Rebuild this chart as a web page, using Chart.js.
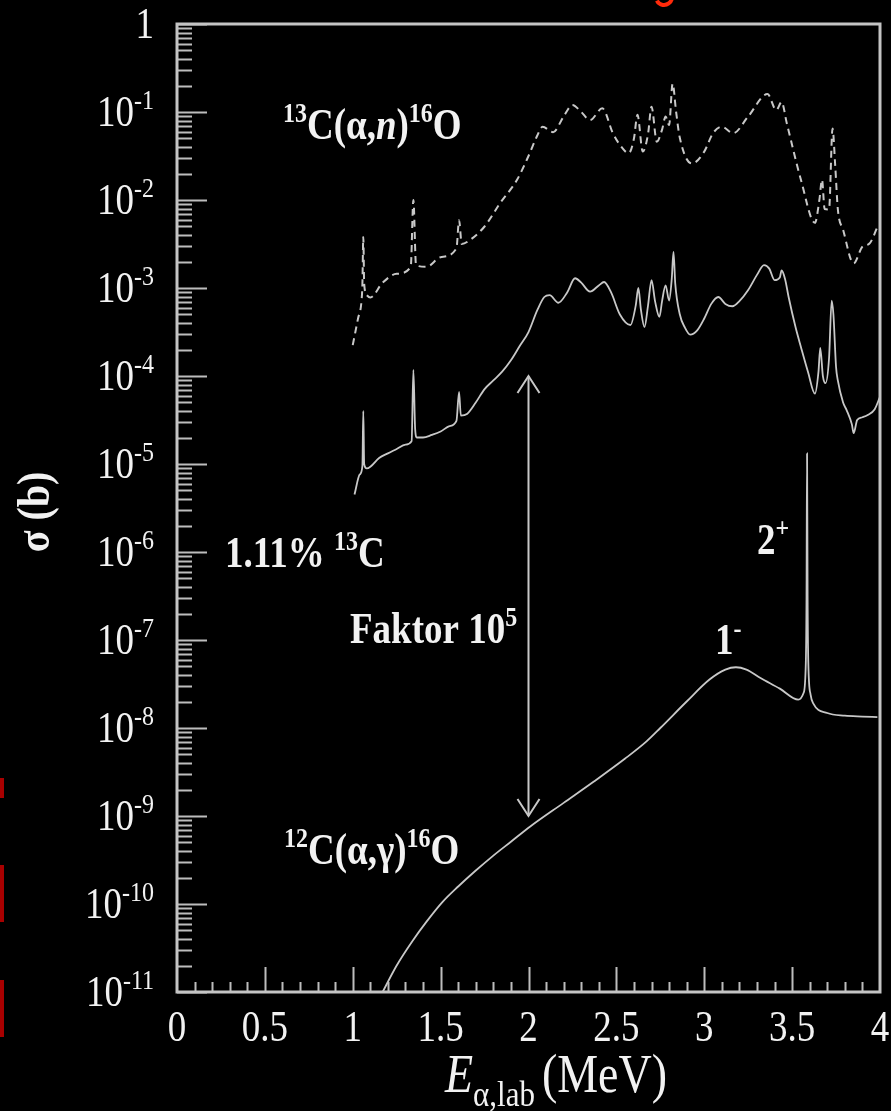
<!DOCTYPE html>
<html><head><meta charset="utf-8">
<script src="https://cdn.jsdelivr.net/npm/chart.js@4/dist/chart.umd.min.js"></script>
<style>html,body{margin:0;padding:0;background:#000;}canvas{display:block;}</style>
</head><body>
<canvas id="c" width="891" height="1111"></canvas>
<script>
// 13C(alpha,n)16O (dashed)
const energyAN = [1.00,1.03,1.05,1.055,1.06,1.065,1.08,1.10,1.17,1.25,1.33,1.345,1.36,1.42,1.50,1.59,1.605,1.62,1.67,1.75,1.84,1.935,2.00,2.05,2.08,2.14,2.20,2.25,2.30,2.35,2.42,2.48,2.53,2.57,2.60,2.62,2.65,2.68,2.70,2.73,2.76,2.78,2.80,2.82,2.84,2.86,2.93,3.00,3.05,3.10,3.165,3.25,3.36,3.41,3.44,3.47,3.55,3.63,3.655,3.67,3.685,3.71,3.73,3.745,3.76,3.79,3.85,3.90,3.94,3.99];
const sigmaAN = [2.24e-4,4.5e-4,7.2e-4,1.12e-3,3.8e-3,1.12e-3,8.3e-4,7.8e-4,1.15e-3,1.45e-3,1.74e-3,1.0e-2,1.82e-3,1.74e-3,2.24e-3,2.82e-3,5.9e-3,3.16e-3,3.55e-3,5.0e-3,9.3e-3,1.7e-2,3.16e-2,5.4e-2,6.8e-2,5.9e-2,8.9e-2,0.12,0.10,8.1e-2,0.11,5.75e-2,3.98e-2,3.4e-2,5.0e-2,9.3e-2,3.55e-2,5.6e-2,0.115,4.6e-2,6.3e-2,8.9e-2,7.1e-2,0.21,0.10,5.2e-2,2.6e-2,3.55e-2,5.75e-2,6.8e-2,5.75e-2,8.9e-2,0.16,0.105,0.13,7.4e-2,1.7e-2,5.5e-3,1.0e-2,1.7e-2,7.9e-3,7.8e-3,6.5e-2,2.5e-2,7.9e-3,4.6e-3,1.9e-3,2.95e-3,3.2e-3,5.2e-3];

// 1.11% 13C (solid, upper)
const energy13C = [1.01,1.04,1.055,1.06,1.065,1.08,1.10,1.15,1.20,1.25,1.30,1.335,1.345,1.355,1.365,1.40,1.45,1.50,1.55,1.59,1.605,1.615,1.65,1.70,1.75,1.80,1.85,1.90,1.95,2.00,2.05,2.09,2.12,2.17,2.22,2.265,2.30,2.35,2.40,2.43,2.47,2.52,2.58,2.61,2.625,2.64,2.66,2.68,2.70,2.72,2.745,2.76,2.78,2.80,2.815,2.825,2.835,2.86,2.89,2.92,2.96,3.00,3.04,3.08,3.12,3.16,3.20,3.25,3.30,3.34,3.37,3.40,3.43,3.44,3.46,3.48,3.52,3.55,3.59,3.63,3.65,3.66,3.675,3.69,3.71,3.725,3.735,3.75,3.76,3.79,3.81,3.84,3.85,3.87,3.90,3.93,3.97,4.00];
const sigma13C = [4.5e-6,7.6e-6,9.5e-6,4.0e-5,1.0e-5,8.9e-6,9.3e-6,1.17e-5,1.32e-5,1.48e-5,1.66e-5,1.82e-5,1.17e-4,2.5e-5,2.0e-5,2.0e-5,2.14e-5,2.34e-5,2.69e-5,3.09e-5,6.6e-5,3.55e-5,3.7e-5,5.0e-5,7.1e-5,8.9e-5,1.12e-4,1.51e-4,2.19e-4,3.16e-4,5.6e-4,7.9e-4,8.3e-4,6.8e-4,8.9e-4,1.29e-3,1.15e-3,9.1e-4,1.07e-3,1.17e-3,8.9e-4,5.0e-4,3.8e-4,6.3e-4,1.0e-3,5.6e-4,3.6e-4,6.3e-4,1.23e-3,7.1e-4,4.7e-4,7.1e-4,1.07e-3,7.2e-4,1.26e-3,2.57e-3,1.12e-3,5.1e-4,3.55e-4,2.95e-4,3.3e-4,4.5e-4,6.6e-4,7.9e-4,6.6e-4,6.2e-4,7.1e-4,9.5e-4,1.41e-3,1.82e-3,1.66e-3,1.23e-3,1.32e-3,1.58e-3,1.26e-3,7.9e-4,3.55e-4,2.14e-4,1.12e-4,6.3e-5,1.12e-4,2.09e-4,1.0e-4,8.3e-5,1.58e-4,7.2e-4,5.0e-4,1.26e-4,8.9e-5,5.0e-5,4.1e-5,2.82e-5,2.24e-5,3.16e-5,3.4e-5,3.6e-5,4.2e-5,5.8e-5];

// 12C(alpha,gamma)16O (solid, lower)
const energy12C = [1.17,1.25,1.34,1.42,1.51,1.60,1.70,1.80,1.90,2.01,2.20,2.37,2.55,2.67,2.75,2.90,3.03,3.12,3.18,3.24,3.32,3.43,3.535,3.565,3.578,3.582,3.585,3.588,3.592,3.605,3.62,3.70,3.80,3.90,3.985];
const sigma12C = [1.0e-11,2.0e-11,3.8e-11,6.3e-11,1.05e-10,1.58e-10,2.4e-10,3.55e-10,5.1e-10,7.6e-10,1.41e-9,2.45e-9,4.5e-9,7.0e-9,1.0e-8,2.0e-8,3.55e-8,4.6e-8,4.9e-8,4.6e-8,3.7e-8,2.8e-8,2.1e-8,2.5e-8,5.6e-8,3.2e-7,1.32e-5,3.2e-7,5.6e-8,2.4e-8,1.9e-8,1.48e-8,1.38e-8,1.35e-8,1.33e-8];

// "Faktor 10^5" double arrow
const arrowEnergy = [2.0, 2.0];
const arrowSigma = [1e-4, 1e-9];

// axes
const xTickValues = [0,0.5,1,1.5,2,2.5,3,3.5,4];
const xTickLabels = ['0','0.5','1','1.5','2','2.5','3','3.5','4'];
const yTickExponents = [0,-1,-2,-3,-4,-5,-6,-7,-8,-9,-10,-11];

const pts = (xs, ys) => xs.map((v, i) => ({x: v, y: ys[i]}));

const FONT = '"Liberation Serif", "Times New Roman", serif';
const TXT = '#f2f2f2';
const LINE = '#c8c8c8';
const SY = 1.18; // glyphs in the source are vertically stretched

function rich(ctx, x, base, parts, size, bold, dry, subSize) {
  let cx = x;
  for (const p of parts) {
    const sz = (p.s || p.sub) ? (subSize || Math.round(size * 0.64)) : size;
    ctx.font = (p.i ? 'italic ' : '') + (bold ? 'bold ' : '') + sz + 'px ' + FONT;
    const dy = p.s ? -size * 0.40 * SY : (p.sub ? size * 0.26 * SY : 0);
    if (!dry) {
      ctx.save();
      ctx.translate(cx, base + dy);
      ctx.scale(1, SY);
      ctx.fillText(p.t, 0, 0);
      ctx.restore();
    }
    cx += ctx.measureText(p.t).width + (p.gap || 0);
  }
  return cx - x;
}

const deco = {
  id: 'deco',
  beforeDraw(chart) {
    const ctx = chart.ctx;
    ctx.save();
    ctx.fillStyle = '#000';
    ctx.fillRect(0, 0, chart.width, chart.height);
    // slide remnants (red)
    ctx.fillStyle = '#a80000';
    ctx.fillRect(0, 778, 4, 20);
    ctx.fillRect(0, 865, 4, 57);
    ctx.fillRect(0, 980, 4, 57);
    ctx.strokeStyle = '#ff2a0a';
    ctx.lineWidth = 4;
    ctx.beginPath();
    ctx.arc(664, -3, 8, 0.05 * Math.PI, 0.85 * Math.PI);
    ctx.stroke();
    ctx.restore();
  },
  afterDraw(chart) {
    const {ctx, chartArea: a} = chart;
    const xs = chart.scales.x, ys = chart.scales.y;
    ctx.save();
    // ticks
    ctx.strokeStyle = '#bdbdbd';
    ctx.lineWidth = 2;
    ctx.beginPath();
    for (const e of yTickExponents) {
      const py = Math.round(ys.getPixelForValue(Math.pow(10, e))) + 0.5;
      ctx.moveTo(a.left, py); ctx.lineTo(a.left + 30, py);
      if (e > -11) {
        for (let k = 2; k <= 9; k++) {
          const q = Math.round(ys.getPixelForValue(k * Math.pow(10, e - 1))) + 0.5;
          ctx.moveTo(a.left, q); ctx.lineTo(a.left + 15, q);
        }
      }
    }
    for (let i = 1; i < 40; i++) {
      const px = Math.round(xs.getPixelForValue(i / 10)) + 0.5;
      const len = (i % 5 === 0) ? 25 : 10;
      ctx.moveTo(px, a.bottom); ctx.lineTo(px, a.bottom - len);
    }
    ctx.stroke();

    // arrow heads
    ctx.strokeStyle = LINE;
    ctx.lineWidth = 2;
    const ax = xs.getPixelForValue(arrowEnergy[0]);
    const ayTop = ys.getPixelForValue(arrowSigma[0]);
    const ayBot = ys.getPixelForValue(arrowSigma[1]);
    ctx.beginPath();
    ctx.moveTo(ax - 11, ayTop + 17); ctx.lineTo(ax, ayTop); ctx.lineTo(ax + 11, ayTop + 17);
    ctx.moveTo(ax - 11, ayBot - 17); ctx.lineTo(ax, ayBot); ctx.lineTo(ax + 11, ayBot - 17);
    ctx.stroke();

    // frame
    ctx.strokeStyle = '#c4c4c4';
    ctx.lineWidth = 3;
    ctx.strokeRect(a.left, a.top, a.right - a.left, a.bottom - a.top);

    // y tick labels
    ctx.fillStyle = TXT;
    ctx.textBaseline = 'alphabetic';
    ctx.textAlign = 'left';
    const rightEdge = 154;
    for (const e of yTickExponents) {
      const py = ys.getPixelForValue(Math.pow(10, e));
      const parts = e === 0 ? [{t: '1'}] : [{t: '10'}, {t: '-' + (-e), s: true}];
      const w = rich(ctx, 0, 0, parts, 37, false, true, 24);
      rich(ctx, rightEdge - w, py + 14, parts, 37, false, false, 24);
    }
    // x tick labels
    xTickValues.forEach((v, i) => {
      ctx.font = '37px ' + FONT;
      const w = ctx.measureText(xTickLabels[i]).width;
      rich(ctx, xs.getPixelForValue(v) - w / 2, 1041, [{t: xTickLabels[i]}], 37, false, false);
    });

    // x title
    const xt = [{t: 'E', i: true}, {t: 'α,lab', sub: true, gap: 7}, {t: '(MeV)'}];
    const xw = rich(ctx, 0, 0, xt, 46, false, true, 31);
    rich(ctx, 556 - xw / 2, 1092, xt, 46, false, false, 31);

    // y title
    ctx.save();
    ctx.translate(37, 512);
    ctx.rotate(-Math.PI / 2);
    ctx.scale(1, 1.15);
    ctx.textAlign = 'center';
    ctx.textBaseline = 'middle';
    ctx.font = 'bold 40px ' + FONT;
    ctx.fillText('σ (b)', 0, 0);
    ctx.restore();

    // annotations
    rich(ctx, 283, 139, [{t: '13', s: true}, {t: 'C(α,'}, {t: 'n', i: true}, {t: ')'}, {t: '16', s: true}, {t: 'O'}], 37, true);
    rich(ctx, 225, 567, [{t: '1.11% '}, {t: '13', s: true}, {t: 'C'}], 37, true);
    rich(ctx, 350, 643, [{t: 'Faktor 10'}, {t: '5', s: true}], 37, true);
    rich(ctx, 715, 654, [{t: '1'}, {t: '-', s: true}], 37, true);
    rich(ctx, 757, 554, [{t: '2'}, {t: '+', s: true}], 37, true);
    rich(ctx, 284, 864, [{t: '12', s: true}, {t: 'C(α,γ)'}, {t: '16', s: true}, {t: 'O'}], 37, true);
    ctx.restore();
  }
};

new Chart(document.getElementById('c'), {
  type: 'line',
  data: {
    datasets: [
      {label: '13C(α,n)16O', data: pts(energyAN, sigmaAN), borderColor: LINE, borderWidth: 2, borderDash: [7, 5], cubicInterpolationMode: 'monotone'},
      {label: '1.11% 13C', data: pts(energy13C, sigma13C), borderColor: LINE, borderWidth: 1.8, cubicInterpolationMode: 'monotone'},
      {label: '12C(α,γ)16O', data: pts(energy12C, sigma12C), borderColor: LINE, borderWidth: 1.8, cubicInterpolationMode: 'monotone'},
      {label: 'Faktor 10^5', data: pts(arrowEnergy, arrowSigma), borderColor: LINE, borderWidth: 2}
    ]
  },
  options: {
    responsive: false,
    animation: false,
    devicePixelRatio: 1,
    layout: {padding: {left: 177, top: 24, right: 11, bottom: 119}},
    elements: {point: {radius: 0}},
    scales: {
      x: {type: 'linear', min: 0, max: 4, display: false},
      y: {type: 'logarithmic', min: 1e-11, max: 1, display: false}
    },
    plugins: {legend: {display: false}, tooltip: {enabled: false}}
  },
  plugins: [deco]
});
</script>
</body></html>
